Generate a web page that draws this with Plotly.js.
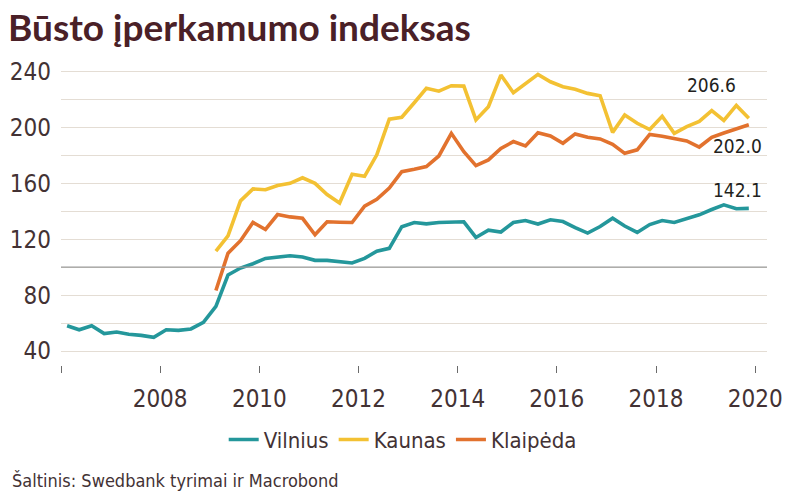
<!DOCTYPE html>
<html>
<head>
<meta charset="utf-8">
<script src="https://cdn.plot.ly/plotly-3.0.1.min.js"></script>
<style>
  html, body { margin: 0; padding: 0; background: #ffffff; }
  #chart { width: 800px; height: 501px; }
</style>
</head>
<body>
<div id="chart"></div>
<script>
// Quarterly observations (plotted mid-quarter)
const quartersVilnius = [
  '2006Q1','2006Q2','2006Q3','2006Q4','2007Q1','2007Q2','2007Q3','2007Q4',
  '2008Q1','2008Q2','2008Q3','2008Q4','2009Q1','2009Q2','2009Q3','2009Q4',
  '2010Q1','2010Q2','2010Q3','2010Q4','2011Q1','2011Q2','2011Q3','2011Q4',
  '2012Q1','2012Q2','2012Q3','2012Q4','2013Q1','2013Q2','2013Q3','2013Q4',
  '2014Q1','2014Q2','2014Q3','2014Q4','2015Q1','2015Q2','2015Q3','2015Q4',
  '2016Q1','2016Q2','2016Q3','2016Q4','2017Q1','2017Q2','2017Q3','2017Q4',
  '2018Q1','2018Q2','2018Q3','2018Q4','2019Q1','2019Q2','2019Q3','2019Q4'
];
const quartersOther = quartersVilnius.slice(12); // from 2009Q1

const vilnius = [
  58.1, 55.2, 58.1, 52.5, 53.6, 52.0, 51.2, 49.8,
  55.2, 54.8, 55.8, 60.6, 72.0, 94.4, 99.4, 102.5,
  106.3, 107.3, 108.2, 107.3, 104.9, 104.9, 103.9, 103.0,
  106.3, 111.5, 113.5, 129.0, 132.0, 131.0, 132.0, 132.3,
  132.5, 121.3, 126.5, 125.2, 132.0, 133.4, 130.9, 133.9,
  132.7, 128.4, 124.4, 129.1, 135.1, 129.5, 124.9, 130.5,
  133.4, 132.0, 134.8, 137.5, 141.3, 144.6, 141.8, 142.1
];
const kaunas = [
  111.5, 122.5, 147.5, 156.0, 155.4, 158.5, 160.0, 164.0,
  160.0, 152.0, 146.0, 166.5, 165.0, 180.4, 205.9, 207.3,
  217.7, 228.0, 226.0, 229.9, 229.6, 205.4, 214.9, 237.5,
  224.9, 231.0, 238.0, 232.7, 229.2, 227.3, 224.4, 222.7,
  196.5, 209.0, 203.0, 198.5, 208.0, 195.8, 200.6, 204.3,
  212.0, 205.0, 215.8, 206.6
];
const klaipeda = [
  83.3, 110.0, 119.0, 132.0, 127.0, 137.7, 136.0, 135.0,
  123.2, 132.5, 132.2, 132.0, 143.7, 148.6, 156.6, 168.4,
  170.1, 172.0, 179.6, 195.8, 182.7, 172.7, 176.8, 185.0,
  189.9, 186.8, 196.3, 193.9, 188.7, 195.4, 193.0, 191.8,
  188.0, 181.5, 184.0, 195.0, 193.7, 192.3, 190.4, 186.0,
  193.0, 196.0, 198.7, 202.0
];

const seriesNames = ['Vilnius', 'Kaunas', 'Klaipėda'];
const yTickVals = [40, 60, 80, 100, 120, 140, 160, 180, 200, 220, 240];
const yTickText = ['40', '', '80', '', '120', '', '160', '', '200', '', '240'];
const xTickYears = [2006, 2008, 2010, 2012, 2014, 2016, 2018, 2020];
const xTickText = ['', '2008', '2010', '2012', '2014', '2016', '2018', '2020'];

const titleText = 'Būsto įperkamumo indeksas';
const sourceText = 'Šaltinis: Swedbank tyrimai ir Macrobond';

// helpers
function qToDate(q) {
  const y = q.slice(0, 4);
  const n = parseInt(q.slice(5), 10);
  const month = String((n - 1) * 3 + 2).padStart(2, '0');
  return y + '-' + month + '-15';
}
const xV = quartersVilnius.map(qToDate);
const xO = quartersOther.map(qToDate);

const colors = { Vilnius: '#24979b', Kaunas: '#f3c133', 'Klaipėda': '#e2722e' };
const condensed = 'DejaVu Sans Condensed, DejaVu Sans, sans-serif';
const tickFont = { family: condensed, size: 24, color: '#433234' };

const traces = [
  { x: xV, y: vilnius, name: seriesNames[0], type: 'scatter', mode: 'lines',
    line: { color: colors.Vilnius, width: 3.6 } },
  { x: xO, y: kaunas, name: seriesNames[1], type: 'scatter', mode: 'lines',
    line: { color: colors.Kaunas, width: 3.6 } },
  { x: xO, y: klaipeda, name: seriesNames[2], type: 'scatter', mode: 'lines',
    line: { color: colors['Klaipėda'], width: 3.6 } }
];

const lastX = xV[xV.length - 1];
const annFont = { family: condensed, size: 19, color: '#231f20' };

const layout = {
  width: 800, height: 501,
  paper_bgcolor: '#ffffff', plot_bgcolor: '#ffffff',
  margin: { l: 61, r: 33, t: 66, b: 136 },
  title: {
    text: '<b>' + titleText + '</b>',
    font: { family: 'Lato, Open Sans, sans-serif', size: 37, color: '#4a2027' },
    x: 0.01, xanchor: 'left', xref: 'container',
    y: 1 - 28 / 501, yanchor: 'middle', yref: 'container'
  },
  xaxis: {
    type: 'date',
    range: ['2006-01-01', '2020-03-28'],
    tickvals: xTickYears.map(y => y + '-01-01'),
    ticktext: xTickText,
    ticks: 'outside', ticklen: 7, tickwidth: 1, tickcolor: '#6b6b6b',
    showgrid: false, zeroline: false, showline: false,
    tickfont: tickFont,
    ticklabelstandoff: 5,
    fixedrange: true
  },
  yaxis: {
    range: [30, 244],
    tickvals: yTickVals,
    ticktext: yTickText,
    showgrid: true, gridcolor: '#e4ddd4', gridwidth: 1,
    zeroline: false, showline: false, ticks: '',
    tickfont: tickFont,
    ticklabelstandoff: 9,
    fixedrange: true
  },
  shapes: [
    { type: 'line', xref: 'paper', x0: 0, x1: 1, yref: 'y', y0: 100, y1: 100,
      line: { color: '#9c9c9c', width: 1.2 } }
  ],
  showlegend: true,
  legend: {
    orientation: 'h', x: 0.484, xanchor: 'center', y: -0.25, yanchor: 'middle',
    font: { family: condensed, size: 22, color: '#433234' },
    itemwidth: 30, tracegroupgap: 0, bgcolor: 'rgba(0,0,0,0)'
  },
  annotations: [
    { x: lastX, y: kaunas[kaunas.length - 1], xref: 'x', yref: 'y', text: kaunas[kaunas.length - 1].toFixed(1),
      showarrow: false, xanchor: 'center', yanchor: 'middle', xshift: -37, yshift: 33, font: annFont },
    { x: lastX, y: klaipeda[klaipeda.length - 1], xref: 'x', yref: 'y', text: klaipeda[klaipeda.length - 1].toFixed(1),
      showarrow: false, xanchor: 'center', yanchor: 'middle', xshift: -11, yshift: -21, font: annFont },
    { x: lastX, y: vilnius[vilnius.length - 1], xref: 'x', yref: 'y', text: vilnius[vilnius.length - 1].toFixed(1),
      showarrow: false, xanchor: 'center', yanchor: 'middle', xshift: -11, yshift: 18, font: annFont },
    { x: (10 - 61) / 706, xref: 'paper', xanchor: 'left', y: -(480 - 365) / 299, yref: 'paper', yanchor: 'middle',
      text: sourceText, showarrow: false,
      font: { family: condensed, size: 18, color: '#433234' } }
  ]
};

Plotly.newPlot('chart', traces, layout, { displayModeBar: false, staticPlot: true });
</script>
</body>
</html>
